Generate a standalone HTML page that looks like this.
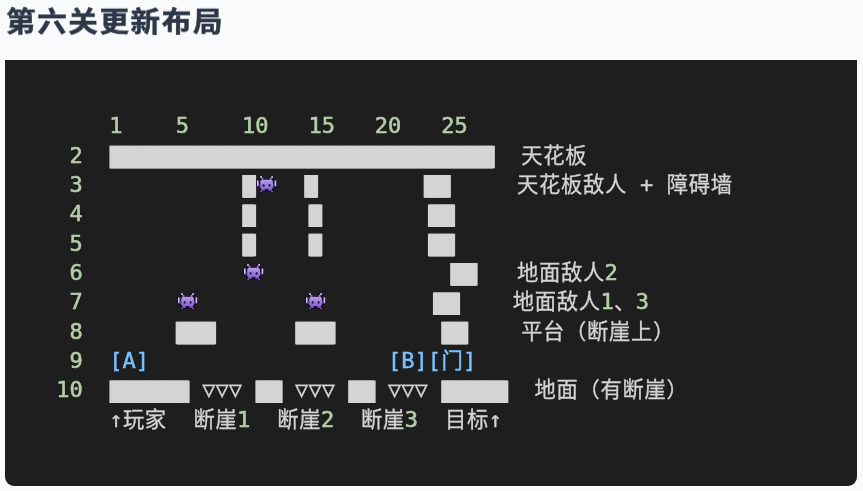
<!DOCTYPE html>
<html lang="zh-CN">
<head>
<meta charset="utf-8">
<title>第六关更新布局</title>
<style>
html,body{margin:0;padding:0;}
body{width:863px;height:491px;overflow:hidden;background:#f9fafb;position:relative;}
h1{position:absolute;left:5.7px;top:-0.3px;margin:0;letter-spacing:1.65px;font:bold 29.5px/44px "Liberation Sans","Noto Sans CJK SC",sans-serif;color:#2d3748;white-space:nowrap;-webkit-text-stroke:0.6px;will-change:transform;transform-origin:0 20.8px;transform:scaleY(0.94);}
.code{position:absolute;left:5px;top:60px;width:852px;height:426px;background:#1e1e1e;border-radius:0 0 9px 9px;overflow:hidden;will-change:transform;}
.r{position:absolute;left:24.61px;height:29.33px;line-height:29.33px;white-space:pre;font-family:"DejaVu Sans Mono","Liberation Mono","Noto Sans CJK SC",monospace;font-size:22.06px;color:#d4d4d4;-webkit-text-stroke:0.3px;}
.c{font-family:"Liberation Mono","Noto Sans CJK SC",monospace;font-size:21.3px;letter-spacing:0.7px;position:relative;left:0.35px;}
.n{color:#b5cea8;-webkit-text-stroke:0.55px;}
.k{color:#79c0ff;-webkit-text-stroke:0.45px;}
.b{display:inline-block;vertical-align:top;position:relative;top:0.6px;left:0.15px;font-size:22.4px;letter-spacing:-0.205px;clip-path:inset(4.55px -2px 2.08px -2px);-webkit-text-stroke:0;background:linear-gradient(#d4d4d4,#d4d4d4) 1px 0/calc(100% - 2px) 100% no-repeat;}
.e{display:inline-block;width:22.4px;height:17px;vertical-align:-0.7px;line-height:0;}
.e svg{display:block;}
</style>
</head>
<body>
<svg width="0" height="0" style="position:absolute"><defs>
<linearGradient id="pg" x1="0" y1="0" x2="0" y2="1"><stop offset="0" stop-color="#b49eea"/><stop offset="1" stop-color="#7a5cc0"/></linearGradient>
<filter id="bl" x="-20%" y="-20%" width="140%" height="140%"><feGaussianBlur stdDeviation="0.45"/></filter>
<g id="alien" filter="url(#bl)"><g fill="#130829" stroke="#130829" stroke-width="1.5" stroke-linejoin="round"><rect x="16.30" y="0.30" width="1.70" height="1.70" rx="0.00"/><rect x="5.20" y="0.30" width="1.70" height="1.70" rx="0.00"/><rect x="14.80" y="1.90" width="1.70" height="2.20" rx="0.00"/><rect x="6.70" y="1.90" width="1.70" height="2.20" rx="0.00"/><rect x="5.20" y="3.80" width="12.80" height="10.90" rx="2.40"/><rect x="17.80" y="8.40" width="2.20" height="2.20" rx="0.00"/><rect x="3.20" y="8.40" width="2.20" height="2.20" rx="0.00"/><rect x="19.70" y="4.40" width="1.50" height="6.20" rx="0.40"/><rect x="2.00" y="4.40" width="1.50" height="6.20" rx="0.40"/><rect x="16.30" y="14.70" width="1.60" height="1.50" rx="0.00"/><rect x="5.30" y="14.70" width="1.60" height="1.50" rx="0.00"/></g><g fill="url(#pg)"><rect x="16.30" y="0.30" width="1.70" height="1.70" rx="0.00"/><rect x="5.20" y="0.30" width="1.70" height="1.70" rx="0.00"/><rect x="14.80" y="1.90" width="1.70" height="2.20" rx="0.00"/><rect x="6.70" y="1.90" width="1.70" height="2.20" rx="0.00"/><rect x="5.20" y="3.80" width="12.80" height="10.90" rx="2.40"/><rect x="17.80" y="8.40" width="2.20" height="2.20" rx="0.00"/><rect x="3.20" y="8.40" width="2.20" height="2.20" rx="0.00"/><rect x="19.70" y="4.40" width="1.50" height="6.20" rx="0.40"/><rect x="2.00" y="4.40" width="1.50" height="6.20" rx="0.40"/><rect x="16.30" y="14.70" width="1.60" height="1.50" rx="0.00"/><rect x="5.30" y="14.70" width="1.60" height="1.50" rx="0.00"/></g><g fill="#cbbcf2"><rect x="16.30" y="0.30" width="1.70" height="1.70" rx="0.00"/><rect x="5.20" y="0.30" width="1.70" height="1.70" rx="0.00"/><rect x="19.70" y="4.40" width="1.50" height="5.60" rx="0.40"/><rect x="2.00" y="4.40" width="1.50" height="5.60" rx="0.40"/></g><g fill="#3b2574"><rect x="18.00" y="8.40" width="1.70" height="2.20" rx="0.00"/><rect x="3.50" y="8.40" width="1.70" height="2.20" rx="0.00"/></g><g fill="#150a33"><rect x="13.70" y="8.20" width="1.80" height="2.40" rx="0.30"/><rect x="7.70" y="8.20" width="1.80" height="2.40" rx="0.30"/><rect x="9.70" y="12.90" width="3.80" height="2.10" rx="0.30"/><rect x="17.00" y="12.20" width="1.40" height="2.60" rx="0.00"/><rect x="4.80" y="12.20" width="1.40" height="2.60" rx="0.00"/></g></g>
</defs></svg>
<h1>第六关更新布局</h1>
<div class="code">
<div class="r" style="top:51.30px">      <span class="n">1</span>    <span class="n">5</span>    <span class="n">10</span>   <span class="n">15</span>   <span class="n">20</span>   <span class="n">25</span></div>
<div class="r" style="top:80.63px">   <span class="n">2</span>  <span class="b">█████████████████████████████</span>  <span class="c">天花板</span></div>
<div class="r" style="top:109.96px">   <span class="n">3</span>            <span class="b">█</span><span class="e" role="img" aria-label="👾"><svg viewBox="0 0 22.4 17" width="22.4" height="17"><use href="#alien"/></svg></span>  <span class="b">█</span>        <span class="b">██</span>     <span class="c">天花板敌人</span> + <span class="c">障碍墙</span></div>
<div class="r" style="top:139.29px">   <span class="n">4</span>            <span class="b">█</span>    <span class="b">█</span>        <span class="b">██</span></div>
<div class="r" style="top:168.62px">   <span class="n">5</span>            <span class="b">█</span>    <span class="b">█</span>        <span class="b">██</span></div>
<div class="r" style="top:197.95px">   <span class="n">6</span>            <span class="e" role="img" aria-label="👾"><svg viewBox="0 0 22.4 17" width="22.4" height="17"><use href="#alien"/></svg></span>              <span class="b">██</span>   <span class="c">地面敌人</span><span class="n">2</span></div>
<div class="r" style="top:227.28px">   <span class="n">7</span>       <span class="e" role="img" aria-label="👾"><svg viewBox="0 0 22.4 17" width="22.4" height="17"><use href="#alien"/></svg></span>        <span class="e" role="img" aria-label="👾"><svg viewBox="0 0 22.4 17" width="22.4" height="17"><use href="#alien"/></svg></span>        <span class="b">██</span>    <span class="c">地面敌人</span><span class="n">1</span><span class="c">、</span><span class="n">3</span></div>
<div class="r" style="top:256.61px">   <span class="n">8</span>       <span class="b">███</span>      <span class="b">███</span>        <span class="b">██</span>    <span class="c">平台（断崖上）</span></div>
<div class="r" style="top:285.94px">   <span class="n">9</span>  <span class="k">[A]</span>                  <span class="k">[B][<span class="c">门</span>]</span></div>
<div class="r" style="top:315.27px">  <span class="n">10</span>  <span class="b">██████</span> ▽▽▽ <span class="b">██</span> ▽▽▽ <span class="b">██</span> ▽▽▽ <span class="b">█████</span>  <span class="c">地面（有断崖）</span></div>
<div class="r" style="top:344.60px">      ↑<span class="c">玩家</span>  <span class="c">断崖</span><span class="n">1</span>  <span class="c">断崖</span><span class="n">2</span>  <span class="c">断崖</span><span class="n">3</span>  <span class="c">目标</span>↑</div>
</div>
</body>
</html>
